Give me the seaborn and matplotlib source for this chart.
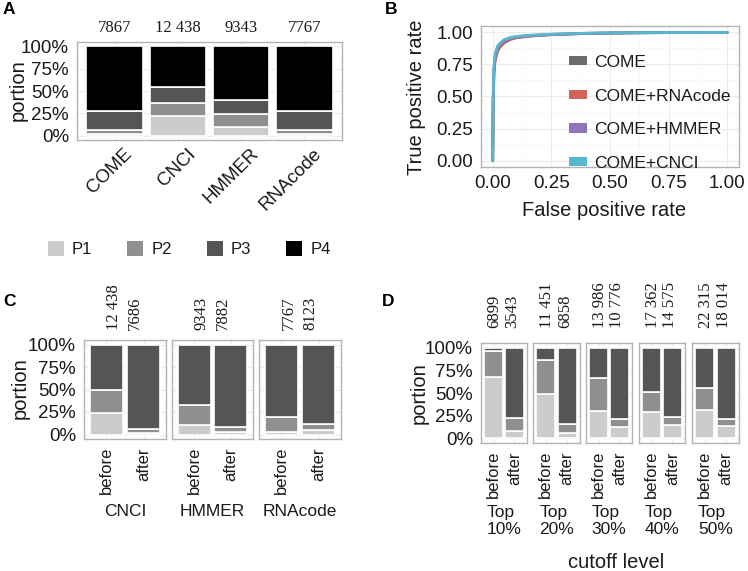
import matplotlib
matplotlib.use('Agg')
import matplotlib.pyplot as plt
from matplotlib.patches import Patch
from matplotlib.ticker import AutoMinorLocator, FixedLocator
from matplotlib.transforms import ScaledTranslation
import pandas as pd
import seaborn as sns

# ---- panel A: class make-up of each predictor's output
methods = ['COME', 'CNCI', 'HMMER', 'RNAcode']
method_counts = ['7867', '12 438', '9343', '7767']
p1_a = [2.0, 21.5, 9.5, 1.5]
p2_a = [4.5, 15.0, 15.0, 5.0]
p3_a = [21.5, 18.5, 15.5, 20.5]
p4_a = [72.0, 45.0, 60.0, 73.0]

# ---- panel B: ROC curves
roc_methods = ['COME', 'COME+RNAcode', 'COME+HMMER', 'COME+CNCI']
fpr = [0.0, 0.002, 0.005, 0.01, 0.02, 0.03, 0.05, 0.075, 0.1, 0.15, 0.25, 0.4, 0.6, 0.8, 1.0]
tpr_come = [0.0, 0.45, 0.68, 0.78, 0.85, 0.885, 0.92, 0.945, 0.958, 0.970, 0.982, 0.992, 0.997, 0.999, 1.0]
tpr_rnacode = [0.0, 0.46, 0.69, 0.79, 0.86, 0.89, 0.925, 0.948, 0.960, 0.972, 0.983, 0.992, 0.997, 0.999, 1.0]
tpr_hmmer = [0.0, 0.48, 0.71, 0.81, 0.875, 0.905, 0.935, 0.955, 0.965, 0.975, 0.985, 0.993, 0.997, 0.999, 1.0]
tpr_cnci = [0.0, 0.50, 0.73, 0.83, 0.89, 0.915, 0.945, 0.960, 0.968, 0.977, 0.986, 0.994, 0.998, 0.999, 1.0]

# ---- panel C: before / after filtering per tool
c_tools = ['CNCI', 'HMMER', 'RNAcode']
stages = ['before', 'after']
c_counts = [['12 438', '7686'], ['9343', '7882'], ['7767', '8123']]
c_p1 = [[24.0, 1.5], [10.5, 2.5], [2.5, 5.5]]
c_p2 = [[26.0, 4.8], [22.5, 6.0], [17.0, 6.0]]
c_p3 = [[50.0, 93.7], [67.0, 91.5], [80.5, 88.5]]

# ---- panel D: before / after per cutoff level
d_levels = ['Top\n10%', 'Top\n20%', 'Top\n30%', 'Top\n40%', 'Top\n50%']
d_counts = [['6899', '3543'], ['11 451', '6858'], ['13 986', '10 776'],
            ['17 362', '14 575'], ['22 315', '18 014']]
d_p1 = [[68.0, 8.0], [49.0, 6.0], [30.5, 13.0], [29.5, 14.5], [31.5, 13.5]]
d_p2 = [[28.0, 14.5], [37.0, 10.0], [35.5, 8.5], [22.0, 9.5], [23.5, 8.0]]
d_p3 = [[4.0, 77.5], [14.0, 84.0], [34.0, 78.5], [48.5, 76.0], [45.0, 78.5]]

classes = ['P1', 'P2', 'P3', 'P4']
class_colors = {'P1': '#cccccc', 'P2': '#8f8f8f', 'P3': '#555555', 'P4': '#000000'}
roc_colors = {'COME': '#6b6b6b', 'COME+RNAcode': '#d2625a',
              'COME+HMMER': '#8e74b6', 'COME+CNCI': '#56b8d0'}

sns.set_style('white')
plt.rcParams['font.family'] = ['Liberation Sans', 'DejaVu Sans']
plt.rcParams['text.color'] = '#1a1a1a'

W, H = 748, 571
fig = plt.figure(figsize=(W / 100, H / 100), dpi=100)


def px_axes(x0, y0, x1, y1):
    return fig.add_axes([x0 / W, 1 - y1 / H, (x1 - x0) / W, (y1 - y0) / H])


def style_axes(ax, minor_y=True):
    for s in ax.spines.values():
        s.set_color('#b3b3b3')
        s.set_linewidth(1.0)
    ax.set_axisbelow(True)
    ax.grid(True, which='major', color='#ebebeb', lw=0.8)
    if minor_y:
        ax.yaxis.set_minor_locator(AutoMinorLocator(2))
        ax.grid(True, which='minor', axis='y', color='#f5f5f5', lw=0.5)
    ax.tick_params(which='major', length=4.3, width=1.8, color='#333333',
                   labelsize=13.5, labelcolor='#1a1a1a', pad=1.5)
    ax.tick_params(which='minor', length=0)
    ax.set_xlabel('')
    ax.set_ylabel('')


def stacked(ax, df, xcol, levels):
    sns.histplot(data=df, x=xcol, weights='portion', hue='class',
                 hue_order=levels[::-1], multiple='fill', discrete=True,
                 shrink=0.9, palette=class_colors, edgecolor='white',
                 linewidth=1.2, alpha=1, legend=False, ax=ax)
    ax.set_ylim(-0.05, 1.05)
    ax.yaxis.set_major_locator(FixedLocator([0, 0.25, 0.5, 0.75, 1.0]))


pct_labels = ['0%', '25%', '50%', '75%', '100%']

# ---------------- A
rows = []
for i, m in enumerate(methods):
    for lvl, vals in zip(classes, [p1_a, p2_a, p3_a, p4_a]):
        rows.append((m, lvl, vals[i]))
df_a = pd.DataFrame(rows, columns=['method', 'class', 'portion'])
df_a['method'] = pd.Categorical(df_a['method'], categories=methods)

ax_a = px_axes(77, 42, 342, 140)
stacked(ax_a, df_a, 'method', classes)
style_axes(ax_a)
ax_a.set_xlim(-0.6, 3.6)
ax_a.set_xticks(range(len(methods)))
ax_a.set_xticklabels(methods, rotation=45, ha='right', va='center',
                     rotation_mode='anchor')
shift = ScaledTranslation(15 / 100, -3 / 100, fig.dpi_scale_trans)
for lab in ax_a.get_xticklabels():
    lab.set_transform(lab.get_transform() + shift)
ax_a.set_yticklabels(pct_labels)
for i, c in enumerate(method_counts):
    ax_a.annotate(c, xy=(i, 1), xycoords=('data', 'axes fraction'),
                  xytext=(0, 10), textcoords='offset points', ha='center',
                  va='center', fontsize=12, family='Liberation Serif',
                  annotation_clip=False)
fig.text(18 / W, 1 - 90 / H, 'portion', rotation=90, ha='center', va='center',
         fontsize=14.5)

fig.legend(handles=[Patch(facecolor=class_colors[c], edgecolor='none', label=c)
                    for c in classes],
           loc='center left', bbox_to_anchor=(48 / W, 1 - 249 / H), ncol=4,
           frameon=False, handlelength=0.96, handleheight=0.96,
           handletextpad=0.48, columnspacing=2.1, fontsize=12, borderpad=0,
           borderaxespad=0)

# ---------------- B
roc_rows = []
for m, t in zip(roc_methods, [tpr_come, tpr_rnacode, tpr_hmmer, tpr_cnci]):
    for f, v in zip(fpr, t):
        roc_rows.append((m, f, v))
df_b = pd.DataFrame(roc_rows, columns=['method', 'fpr', 'tpr'])

ax_b = px_axes(481, 26, 739, 167)
sns.lineplot(data=df_b, x='fpr', y='tpr', hue='method', hue_order=roc_methods,
             palette=roc_colors, estimator=None, sort=False, legend=False,
             lw=2.0, ax=ax_b)
style_axes(ax_b)
ax_b.xaxis.set_minor_locator(AutoMinorLocator(2))
ax_b.grid(True, which='minor', axis='x', color='#f5f5f5', lw=0.5)
ax_b.set_xlim(-0.05, 1.05)
ax_b.set_ylim(-0.05, 1.05)
ticks = [0, 0.25, 0.5, 0.75, 1.0]
ax_b.set_xticks(ticks)
ax_b.set_yticks(ticks)
ax_b.set_xticklabels([f'{t:.2f}' for t in ticks])
ax_b.set_yticklabels([f'{t:.2f}' for t in ticks])
ax_b.legend(handles=[Patch(facecolor=roc_colors[m], edgecolor='none', label=m)
                     for m in roc_methods],
            loc='upper left', bbox_to_anchor=(569 / W, 1 - 55 / H),
            bbox_transform=fig.transFigure, frameon=False, fontsize=12.5,
            handlelength=1.05, handleheight=0.45, handletextpad=0.4,
            labelspacing=1.07, borderpad=0, borderaxespad=0)
fig.text(417 / W, 1 - 97 / H, 'True positive rate', rotation=90, ha='center',
         va='center', fontsize=14.5)
fig.text(604 / W, 1 - 210 / H, 'False positive rate', ha='center',
         va='center', fontsize=14.5)


# ---------------- C and D facets
def facet_row(boxes, names, counts, p1, p2, p3, label_x, label_off, strip_y):
    axes = []
    for k, (box, name) in enumerate(zip(boxes, names)):
        rows = []
        for j, st in enumerate(stages):
            for lvl, vals in zip(classes[:3], [p1, p2, p3]):
                rows.append((st, lvl, vals[k][j]))
        df = pd.DataFrame(rows, columns=['stage', 'class', 'portion'])
        df['stage'] = pd.Categorical(df['stage'], categories=stages)
        ax = px_axes(*box)
        stacked(ax, df, 'stage', classes[:3])
        style_axes(ax)
        ax.set_xlim(-0.6, 1.6)
        ax.set_xticks([0, 1])
        ax.set_xticklabels(stages, rotation=90, fontsize=12)
        if k == 0:
            ax.set_yticklabels(pct_labels)
        else:
            ax.tick_params(axis='y', left=False, labelleft=False)
        for j, c in enumerate(counts[k]):
            ax.annotate(c, xy=(label_x[j], 1), xycoords=('data', 'axes fraction'),
                        xytext=(0, label_off), textcoords='offset points',
                        rotation=90, ha='center', va='bottom', fontsize=12,
                        family='Liberation Serif', annotation_clip=False)
        xc = (box[0] + box[2]) / 2
        fig.text(xc / W, 1 - strip_y / H, name, ha='center', va='center',
                 multialignment='left', fontsize=12.5, linespacing=1.15)
        axes.append(ax)
    return axes


c_boxes = [(84, 340, 166, 439), (172, 340, 253, 439), (259, 340, 341, 439)]
facet_row(c_boxes, c_tools, c_counts, c_p1, c_p2, c_p3,
          [0.2, 0.77], 7.2, 511)
fig.text(20 / W, 1 - 388 / H, 'portion', rotation=90, ha='center', va='center',
         fontsize=14.5)

d_boxes = [(481, 343, 527, 443), (533, 343, 580, 443), (586, 343, 632, 443),
           (639, 343, 685, 443), (692, 343, 739, 443)]
facet_row(d_boxes, d_levels, d_counts, d_p1, d_p2, d_p3,
          [0.05, 0.9], 10.8, 521)
fig.text(419 / W, 1 - 393 / H, 'portion', rotation=90, ha='center',
         va='center', fontsize=14.5)
fig.text(616 / W, 1 - 562 / H, 'cutoff level', ha='center', va='center',
         fontsize=14.5)

# panel letters
for letter, (x, y) in zip('ABCD', [(9, 10), (391, 10), (9, 301), (388, 301)]):
    fig.text(x / W, 1 - y / H, letter, ha='center', va='center',
             fontsize=12.5, fontweight='bold', color='black')

fig.savefig('out.png', dpi=100)
